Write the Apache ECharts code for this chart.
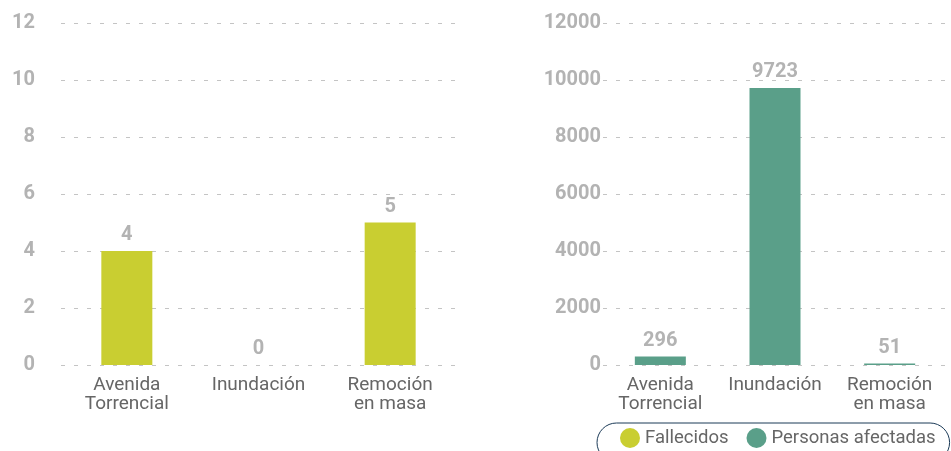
<html>
<head>
    <meta charset="utf-8">
    <title>ECharts</title>
    <script src="https://cdn.jsdelivr.net/npm/echarts@6/dist/echarts.min.js"></script>
</head>
<body style="margin:0">
    <div id="main" style="width: 951px;height:451px;"></div>
    <script type="text/javascript">
        var myChart = echarts.init(document.getElementById('main'));

        // datos
        var categorias = ['Avenida\nTorrencial', 'Inundación', 'Remoción\nen masa'];
        var fallecidos = [4, 0, 5];
        var afectadas = [296, 9723, 51];

        var gris = '#b3b3b3';
        var splitDash = { show: true, lineStyle: { color: '#c4c4c4', type: [4, 9], width: 1 } };
        function yLabel(m) {
            return { color: gris, fontFamily: 'Roboto', fontWeight: 'bold', fontSize: 20, margin: m,
                padding: [3, 0, 0, 0],
                formatter: function (v) { return String(v); } };
        }
        var xLabel = { color: '#666', fontFamily: 'Roboto', fontSize: 19, lineHeight: 19, margin: 11, interval: 0 };
        var valLabel = { show: true, position: 'top', distance: 6, color: gris, fontFamily: 'Roboto', fontWeight: 'bold', fontSize: 20 };

        option = {
            animation: false,
            legend: {
                left: 597, top: 423, width: 420,
                padding: [5, 14, 14, 23],
                borderColor: '#1b3a57', borderWidth: 1, borderRadius: 20,
                icon: 'circle', itemWidth: 20, itemHeight: 20, itemGap: 18,
                textStyle: { color: '#666', fontFamily: 'Roboto', fontSize: 18.5 },
                data: ['Fallecidos', 'Personas afectadas']
            },
            grid: [
                { left: 61, width: 395, top: 23, bottom: 86 },
                { left: 603, right: 4, top: 23, bottom: 86 }
            ],
            xAxis: [
                { type: 'category', gridIndex: 0, data: categorias, axisLine: { show: false }, axisTick: { show: false }, axisLabel: xLabel },
                { type: 'category', gridIndex: 1, data: categorias, axisLine: { show: false }, axisTick: { show: false }, axisLabel: xLabel }
            ],
            yAxis: [
                { type: 'value', gridIndex: 0, min: 0, max: 12, interval: 2, axisLabel: yLabel(26), splitLine: splitDash },
                { type: 'value', gridIndex: 1, min: 0, max: 12000, interval: 2000, axisLabel: yLabel(2), splitLine: splitDash }
            ],
            series: [
                {
                    name: 'Fallecidos', type: 'bar', xAxisIndex: 0, yAxisIndex: 0,
                    data: fallecidos, barWidth: 51, itemStyle: { color: '#c9ce31' }, label: valLabel
                },
                {
                    name: 'Personas afectadas', type: 'bar', xAxisIndex: 1, yAxisIndex: 1,
                    data: afectadas, barWidth: 51, itemStyle: { color: '#5a9f89' }, label: valLabel
                }
            ]
        };

        myChart.setOption(option);
    </script>
</body>
</html>
